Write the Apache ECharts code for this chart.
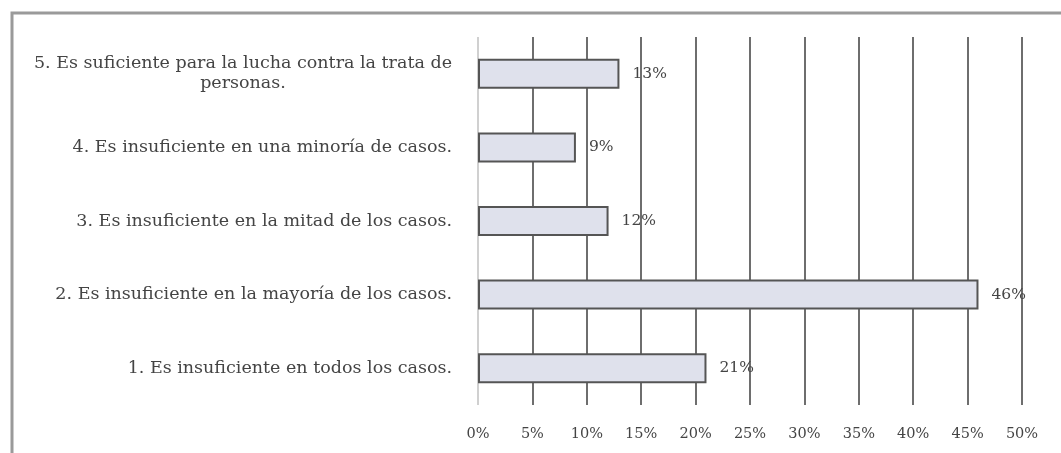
<!DOCTYPE html>
<html>
<head>
<meta charset="utf-8">
<script src="https://cdn.jsdelivr.net/npm/echarts@6/dist/echarts.min.js"></script>
<style>
  html, body { margin: 0; padding: 0; background: #fff; }
  #chart { width: 1061px; height: 453px; }
</style>
</head>
<body>
<div id="chart"></div>
<script>
// Survey answers, listed bottom to top as they appear on the category axis
const categories = [
  '1. Es insuficiente en todos los casos.',
  '2. Es insuficiente en la mayoría de los casos.',
  '3. Es insuficiente en la mitad de los casos.',
  '4. Es insuficiente en una minoría de casos.',
  '5. Es suficiente para la lucha contra la trata de\npersonas.'
];
const percentages = [21, 46, 12, 9, 13];
const axisMax = 50;
const axisStep = 5;

const serif = '"DejaVu Serif", "Liberation Serif", serif';
const textColor = '#444444';

// Each label line becomes its own rich token so a wrapped second line sits centred
function categoryLabel(value) {
  const lines = value.split('\n');
  if (lines.length === 1) return '{r|' + lines[0] + '}';
  return lines.map(l => '{c|' + l + '}').join('\n');
}

const chart = echarts.init(document.getElementById('chart'));
chart.setOption({
  backgroundColor: '#ffffff',
  animation: false,
  grid: { left: 478, right: 39, top: 37, bottom: 48, containLabel: false },
  xAxis: {
    type: 'value',
    min: 0,
    max: axisMax,
    interval: axisStep,
    axisLine: { show: false },
    axisTick: { show: false },
    axisLabel: {
      formatter: v => v + '%',
      fontFamily: serif,
      fontSize: 14.5,
      color: textColor,
      margin: 22
    },
    splitLine: {
      show: true,
      lineStyle: {
        color: ['#d0d0d0', '#6e6e6e', '#6e6e6e', '#6e6e6e', '#6e6e6e', '#6e6e6e',
                '#6e6e6e', '#6e6e6e', '#6e6e6e', '#6e6e6e', '#6e6e6e'],
        width: 2
      }
    }
  },
  yAxis: {
    type: 'category',
    data: categories,
    axisLine: { show: false },
    axisTick: { show: false },
    axisLabel: {
      margin: 26,
      formatter: categoryLabel,
      rich: {
        r: { fontFamily: serif, fontSize: 17.5, color: textColor, align: 'right', lineHeight: 20 },
        c: { fontFamily: serif, fontSize: 17.5, color: textColor, align: 'center', lineHeight: 20 }
      }
    }
  },
  series: [{
    type: 'bar',
    data: percentages,
    barWidth: 30,
    itemStyle: {
      color: '#dfe1ec',
      borderColor: '#555555',
      borderWidth: 2
    },
    label: {
      show: true,
      position: 'right',
      distance: 13,
      formatter: p => p.value + '%',
      fontFamily: serif,
      fontSize: 15.5,
      color: textColor
    }
  }],
  graphic: [{
    type: 'polyline',
    silent: true,
    shape: { points: [[12, 453], [12, 13], [1061, 13]] },
    style: { stroke: '#9a9a9a', lineWidth: 3, fill: null }
  }]
});
</script>
</body>
</html>
